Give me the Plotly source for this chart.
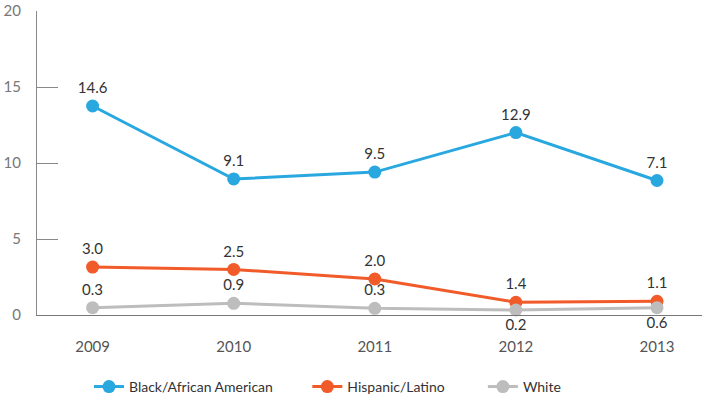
import plotly.graph_objects as go

years = ["2009", "2010", "2011", "2012", "2013"]

black_vals = [13.75, 8.95, 9.4, 12.0, 8.85]
black_labels = ["14.6", "9.1", "9.5", "12.9", "7.1"]

hisp_vals = [3.15, 3.0, 2.37, 0.84, 0.9]
hisp_labels = ["3.0", "2.5", "2.0", "1.4", "1.1"]

white_vals = [0.48, 0.77, 0.44, 0.33, 0.48]
white_labels = ["0.3", "0.9", "0.3", "0.2", "0.6"]

y_ticks = [0, 5, 10, 15, 20]

FONT = "Lato"
fig = go.Figure()

series = [
    ("Black/African American", black_vals, black_labels, "#29A8E0",
     ["top center"] * 5, "legend", 0.0782),
    ("Hispanic/Latino", hisp_vals, hisp_labels, "#F15A29",
     ["top center"] * 5, "legend2", 0.4065),
    ("White", white_vals, white_labels, "#BDBDBD",
     ["top center", "top center", "top center", "bottom center", "bottom center"],
     "legend3", 0.6705),
]

legends = {}
for name, vals, labels, color, pos, leg, lx in series:
    fig.add_trace(go.Scatter(
        x=years, y=vals, name=name, mode="lines+markers+text",
        text=labels, textposition=pos,
        textfont=dict(family=FONT, size=15, color="#333333"),
        line=dict(color=color, width=3),
        marker=dict(color=color, size=13),
        cliponaxis=False, legend=leg, showlegend=True,
    ))
    legends[leg] = dict(orientation="h", xref="paper", yref="paper",
                        x=lx, xanchor="left", y=-0.184, yanchor="top",
                        font=dict(family=FONT, size=14, color="#333333"),
                        bgcolor="rgba(0,0,0,0)")

fig.update_layout(
    width=707, height=396,
    margin=dict(l=37, r=5, t=10.5, b=81, autoexpand=False),
    paper_bgcolor="white", plot_bgcolor="white",
    font=dict(family=FONT, size=15, color="#666666"),
    xaxis=dict(type="category", range=[-0.394, 4.319], showgrid=False,
               showline=True, linecolor="#777777", linewidth=1, automargin=False,
               ticks="", tickfont=dict(family=FONT, size=15, color="#555555"),
               ticklabelstandoff=18, zeroline=False),
    yaxis=dict(range=[0, 20], tickvals=y_ticks, showgrid=False, zeroline=False,
               showline=True, linecolor="#888888", linewidth=1, automargin=False,
               ticks="inside", ticklen=21, tickcolor="#888888", tickwidth=1,
               tickfont=dict(family=FONT, size=15, color="#777777"),
               ticklabelstandoff=12),
    **legends,
)

fig.write_html("out.html", config={"displayModeBar": False},
               post_script="document.body.style.margin='0';")
